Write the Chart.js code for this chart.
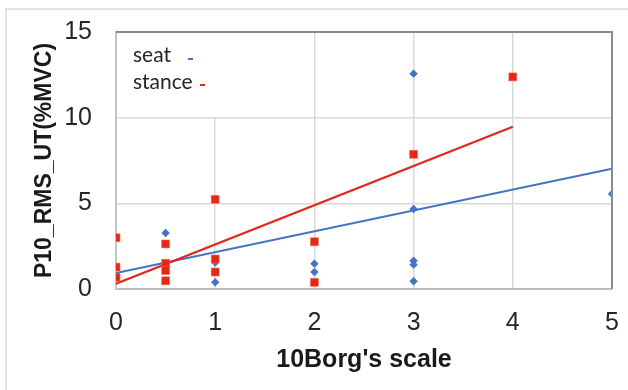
<!DOCTYPE html>
<html>
<head>
<meta charset="utf-8">
<script src="https://cdn.jsdelivr.net/npm/chart.js@4/dist/chart.umd.min.js"></script>
<style>
  html, body { margin: 0; padding: 0; background: #fff; }
  #wrap { position: relative; width: 628px; height: 390px; overflow: hidden; }
  #frame { position: absolute; left: 5px; top: 8px; right: -4px; bottom: -4px;
           border-top: 2px solid #e2e2e2; border-left: 2px solid #e2e2e2; }
  canvas { position: absolute; left: 0; top: 0; }
</style>
</head>
<body>
<div id="wrap">
  <div id="frame"></div>
  <canvas id="c" width="628" height="390"></canvas>
</div>
<script>
// ---- data ----
const seatLabel = 'seat';
const stanceLabel = 'stance';

const seatBorg   = [0.5, 0.5, 1, 1, 2, 2, 3, 3, 3, 3, 3, 5];
const seatRMS    = [3.27, 1.5, 0.39, 1.55, 1.48, 0.99, 12.57, 4.67, 1.65, 1.42, 0.45, 5.55];

const stanceBorg = [0, 0, 0, 0.5, 0.5, 0.5, 0.5, 1, 1, 1, 2, 2, 3, 4];
const stanceRMS  = [2.99, 1.28, 0.68, 2.63, 1.5, 1.08, 0.48, 5.23, 1.75, 0.99, 2.76, 0.39, 7.86, 12.38];

const seatTrendBorg   = [0, 5];
const seatTrendRMS    = [0.93, 7.02];
const stanceTrendBorg = [0, 4];
const stanceTrendRMS  = [0.31, 9.47];

const xTicks = [0, 1, 2, 3, 4, 5];
const yTicks = [0, 5, 10, 15];

const xTitle = "10Borg's scale";
const yTitle = 'P10_RMS_UT(%MVC)';

const blue = '#4472C4';
const red = '#E5261B';

const pts = (xs, ys) => xs.map((x, i) => ({ x: x, y: ys[i] }));

Chart.defaults.font.family = "'Liberation Sans', Arial, sans-serif";

const legendItems = [
  { label: seatLabel, color: blue, baseline: 62, dashX: 188, dashY: 58 },
  { label: stanceLabel, color: red, baseline: 89, dashX: 200, dashY: 84 }
];

const noPad = s => { s.paddingLeft = 0; s.paddingRight = 0; s.paddingTop = 0; s.paddingBottom = 0; };

const framePlugin = {
  id: 'framePlugin',
  beforeDatasetsDraw(chart) {
    const { ctx, chartArea: a } = chart;
    ctx.save();
    ctx.fillStyle = '#fff';
    ctx.fillRect(a.left + 1, a.top + 1, 150, 84);
    ctx.font = "21px Lato, 'Open Sans', sans-serif";
    ctx.textBaseline = 'alphabetic';
    ctx.textAlign = 'left';
    legendItems.forEach(it => {
      ctx.fillStyle = '#262626';
      ctx.fillText(it.label, a.left + 17, it.baseline);
      ctx.fillStyle = it.color;
      ctx.fillRect(it.dashX, it.dashY, 5, 2);
    });
    ctx.restore();
  },
  afterDraw(chart) {
    const { ctx, chartArea: a } = chart;
    ctx.save();
    ctx.strokeStyle = '#8a8a8a';
    ctx.lineWidth = 2;
    ctx.beginPath();
    ctx.moveTo(a.left, a.top);
    ctx.lineTo(a.right, a.top);
    ctx.lineTo(a.right, a.bottom);
    ctx.stroke();
    ctx.restore();
  }
};

new Chart(document.getElementById('c'), {
  type: 'scatter',
  data: {
    datasets: [
      { label: stanceLabel, data: pts(stanceBorg, stanceRMS), backgroundColor: red, borderColor: '#ef6a3a',
        borderWidth: 0.6, pointStyle: 'rect', pointRadius: 5.6, pointHoverRadius: 5.6, order: 0 },
      { label: stanceLabel + ' trend', type: 'line', data: pts(stanceTrendBorg, stanceTrendRMS),
        borderColor: red, borderWidth: 2.2, pointRadius: 0, fill: false, order: 1 },
      { label: seatLabel, data: pts(seatBorg, seatRMS), backgroundColor: blue, borderColor: blue,
        borderWidth: 0, pointStyle: 'rectRot', pointRadius: 4.2, pointHoverRadius: 4.2, order: 2 },
      { label: seatLabel + ' trend', type: 'line', data: pts(seatTrendBorg, seatTrendRMS),
        borderColor: blue, borderWidth: 2, pointRadius: 0, fill: false, order: 3 }
    ]
  },
  options: {
    responsive: false,
    animation: false,
    layout: { padding: { left: 0, top: 32, right: 16, bottom: 0 } },
    plugins: { legend: { display: false }, tooltip: { enabled: false } },
    scales: {
      x: {
        type: 'linear', min: 0, max: 5,
        afterBuildTicks: s => { s.ticks = xTicks.map(v => ({ value: v })); },
        afterFit: s => { s.height = 101; noPad(s); },
        ticks: { color: '#262626', font: { size: 25 }, padding: 19 },
        grid: { color: '#d9d9d9', lineWidth: 1.5, drawTicks: false },
        border: { color: '#bdbdbd', width: 2 },
        title: { display: true, text: xTitle, color: '#1a1a1a',
                 font: { size: 25, weight: 'bold' }, padding: { top: 0, bottom: 15 } }
      },
      y: {
        type: 'linear', min: 0, max: 15,
        afterBuildTicks: s => { s.ticks = yTicks.map(v => ({ value: v })); },
        afterFit: s => { s.width = 116; noPad(s); },
        ticks: { color: '#262626', font: { size: 25 }, padding: 24 },
        grid: { color: '#d9d9d9', lineWidth: 1.5, drawTicks: false },
        border: { color: '#c4c4c4', width: 2 },
        title: { display: true, text: yTitle, color: '#1a1a1a',
                 font: { size: 23, weight: 'bold' }, padding: { top: 31, bottom: 0 } }
      }
    }
  },
  plugins: [framePlugin]
});
</script>
</body>
</html>
